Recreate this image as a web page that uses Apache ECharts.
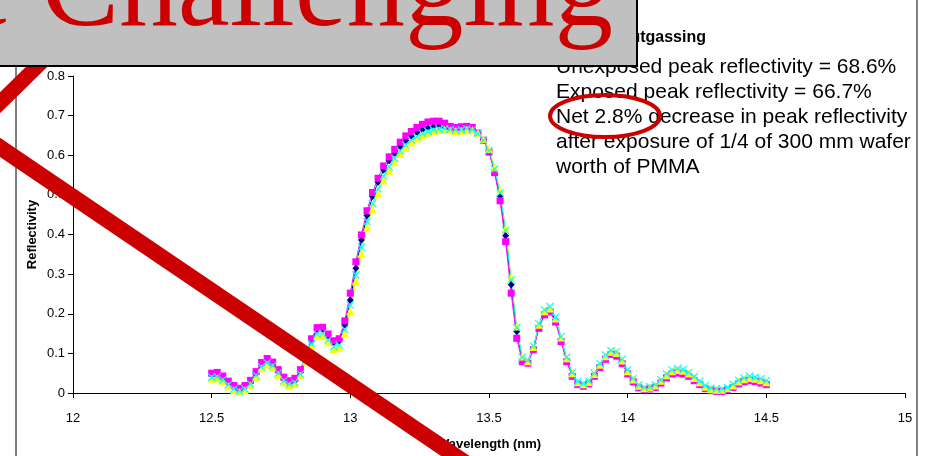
<!DOCTYPE html>
<html><head><meta charset="utf-8">
<script src="https://cdn.jsdelivr.net/npm/echarts@6/dist/echarts.min.js"></script>
<style>html,body{margin:0;padding:0;background:#fff}#c{width:933px;height:456px}</style>
</head><body><div id="c"></div>
<script>
const wavelength = [
 12.50,12.52,12.54,12.56,12.58,12.60,12.62,12.64,12.66,12.68,
 12.70,12.72,12.74,12.76,12.78,12.80,12.82,12.84,12.86,12.88,
 12.90,12.92,12.94,12.96,12.98,13.00,13.02,13.04,13.06,13.08,
 13.10,13.12,13.14,13.16,13.18,13.20,13.22,13.24,13.26,13.28,
 13.30,13.32,13.34,13.36,13.38,13.40,13.42,13.44,13.46,13.48,
 13.50,13.52,13.54,13.56,13.58,13.60,13.62,13.64,13.66,13.68,
 13.70,13.72,13.74,13.76,13.78,13.80,13.82,13.84,13.86,13.88,
 13.90,13.92,13.94,13.96,13.98,14.00,14.02,14.04,14.06,14.08,
 14.10,14.12,14.14,14.16,14.18,14.20,14.22,14.24,14.26,14.28,
 14.30,14.32,14.34,14.36,14.38,14.40,14.42,14.44,14.46,14.48,
 14.50];
const navySeries = [
 0.045,0.047,0.038,0.025,0.014,0.008,0.014,0.027,0.049,0.072,
 0.082,0.073,0.054,0.035,0.026,0.031,0.053,0.091,0.131,0.160,
 0.161,0.144,0.127,0.131,0.172,0.235,0.315,0.386,0.448,0.496,
 0.532,0.563,0.586,0.605,0.622,0.637,0.648,0.657,0.664,0.669,
 0.672,0.673,0.671,0.667,0.665,0.666,0.668,0.666,0.655,0.638,
 0.610,0.562,0.497,0.397,0.273,0.155,0.085,0.077,0.112,0.167,
 0.201,0.209,0.183,0.134,0.083,0.046,0.025,0.020,0.026,0.045,
 0.068,0.089,0.101,0.097,0.078,0.052,0.031,0.016,0.011,0.013,
 0.017,0.028,0.042,0.052,0.054,0.052,0.046,0.035,0.025,0.014,
 0.009,0.007,0.007,0.011,0.017,0.027,0.032,0.035,0.033,0.029,
 0.025];
const pinkSeries = [
 0.050,0.052,0.043,0.030,0.019,0.012,0.019,0.032,0.054,0.077,
 0.087,0.078,0.059,0.040,0.031,0.037,0.059,0.097,0.137,0.165,
 0.166,0.149,0.132,0.137,0.182,0.252,0.331,0.399,0.460,0.506,
 0.542,0.573,0.596,0.615,0.633,0.649,0.660,0.670,0.678,0.684,
 0.686,0.686,0.681,0.673,0.670,0.672,0.673,0.670,0.656,0.638,
 0.608,0.556,0.485,0.382,0.252,0.138,0.079,0.075,0.109,0.163,
 0.197,0.205,0.179,0.130,0.079,0.042,0.021,0.017,0.023,0.042,
 0.064,0.085,0.097,0.093,0.074,0.048,0.028,0.013,0.008,0.010,
 0.014,0.025,0.038,0.048,0.050,0.048,0.042,0.031,0.021,0.011,
 0.006,0.004,0.004,0.008,0.014,0.023,0.028,0.031,0.029,0.025,
 0.021];
const yellowSeries = [
 0.036,0.037,0.029,0.017,0.007,0.003,0.007,0.019,0.040,0.062,
 0.072,0.065,0.046,0.027,0.018,0.023,0.044,0.080,0.118,0.143,
 0.144,0.128,0.111,0.114,0.150,0.207,0.282,0.352,0.417,0.463,
 0.503,0.536,0.561,0.583,0.603,0.619,0.632,0.642,0.651,0.657,
 0.661,0.664,0.665,0.663,0.661,0.662,0.665,0.663,0.656,0.641,
 0.616,0.570,0.512,0.416,0.294,0.168,0.092,0.080,0.116,0.172,
 0.206,0.213,0.188,0.140,0.088,0.050,0.027,0.022,0.028,0.048,
 0.071,0.093,0.104,0.101,0.082,0.055,0.034,0.018,0.012,0.014,
 0.019,0.031,0.045,0.055,0.058,0.056,0.049,0.038,0.027,0.016,
 0.010,0.008,0.008,0.012,0.019,0.029,0.035,0.038,0.036,0.032,
 0.027];
const cyanSeries = [
 0.040,0.041,0.033,0.021,0.010,0.005,0.010,0.023,0.044,0.066,
 0.076,0.069,0.050,0.031,0.022,0.027,0.048,0.085,0.124,0.149,
 0.150,0.134,0.117,0.121,0.160,0.222,0.298,0.368,0.432,0.478,
 0.515,0.547,0.571,0.592,0.611,0.626,0.638,0.647,0.655,0.660,
 0.664,0.666,0.667,0.665,0.663,0.664,0.667,0.664,0.655,0.638,
 0.612,0.565,0.505,0.410,0.285,0.165,0.090,0.082,0.118,0.175,
 0.210,0.218,0.191,0.142,0.090,0.052,0.029,0.024,0.030,0.050,
 0.074,0.096,0.107,0.104,0.085,0.058,0.036,0.020,0.014,0.016,
 0.021,0.033,0.048,0.058,0.062,0.059,0.052,0.041,0.030,0.019,
 0.012,0.010,0.010,0.014,0.022,0.032,0.038,0.042,0.040,0.036,
 0.031];
const xTicks = [12, 12.5, 13, 13.5, 14, 14.5, 15];
const yTicks = [0, 0.1, 0.2, 0.3, 0.4, 0.5, 0.6, 0.7, 0.8];
const noteLines = [
 'Unexposed peak reflectivity = 68.6%',
 'Exposed peak reflectivity = 66.7%',
 'Net 2.8% decrease in peak reflectivity',
 'after exposure of 1/4 of 300 mm wafer',
 'worth of PMMA'
];
const noteTitle = 'Outgassing';
const bannerText = 'e Challenging';

const SANS = "'Liberation Sans', Arial, sans-serif";
const SERIF = "'Liberation Serif', 'Times New Roman', serif";
const XMARK = 'path://M0,1L1,0L5,4L9,0L10,1L6,5L10,9L9,10L5,6L1,10L0,9L4,5Z';

function pairs(ys){ return wavelength.map((x,i)=>[x, ys[i]]); }
function mk(name, ys, color, symbol, size){
  return {name, type:'line', data:pairs(ys), symbol, symbolSize:size, showSymbol:true,
    lineStyle:{color, width:1}, itemStyle:{color}, animation:false, silent:true};
}

const chart = echarts.init(document.getElementById('c'));
const graphic = [
  {type:'rect', z:50, shape:{x:16, y:-5, width:901, height:480}, style:{fill:'none', stroke:'#000', lineWidth:1}},
  {type:'text', z:60, style:{text:noteTitle, x:618, y:37.4, fill:'#000', fontSize:16, fontWeight:'bold', fontFamily:SANS, verticalAlign:'middle'}},
];
noteLines.forEach((t,i)=>graphic.push({type:'text', z:60, style:{text:t, x:556, y:67.6+25*i, fill:'#000', fontSize:21, fontFamily:SANS, verticalAlign:'middle'}}));
graphic.push(
  {type:'ellipse', z:70, shape:{cx:605, cy:116, rx:55, ry:21}, style:{fill:'none', stroke:'#CC0000', lineWidth:4}},
  {type:'line', z:70, shape:{x1:-30, y1:132, x2:110, y2:-5}, style:{stroke:'#CC0000', lineWidth:15}},
  {type:'line', z:70, shape:{x1:-30, y1:127, x2:476, y2:470}, style:{stroke:'#CC0000', lineWidth:16}},
  {type:'rect', z:80, shape:{x:-5, y:-5, width:642, height:71}, style:{fill:'#C0C0C0', stroke:'#000', lineWidth:2}},
  {type:'text', z:90, style:{text:bannerText, x:-40, y:-6, fill:'#CC0000', fontSize:117, fontFamily:SERIF, verticalAlign:'middle'}}
);

chart.setOption({
  animation:false,
  backgroundColor:'#fff',
  grid:{left:73, right:28, top:76, bottom:63, containLabel:false},
  xAxis:{type:'value', min:xTicks[0], max:xTicks[xTicks.length-1], interval:0.5,
    name:'Wavelength (nm)', nameLocation:'middle', nameGap:45, nameMoveOverlap:false,
    nameTextStyle:{color:'#000', fontSize:13, fontWeight:'bold', fontFamily:SANS},
    axisLine:{show:true, onZero:false, lineStyle:{color:'#000', width:1}},
    axisTick:{show:true, inside:false, length:5, lineStyle:{color:'#000'}},
    axisLabel:{color:'#000', fontSize:13, fontFamily:SANS, margin:19, formatter:v=>String(v)},
    splitLine:{show:false}},
  yAxis:{type:'value', min:yTicks[0], max:yTicks[yTicks.length-1], interval:0.1,
    name:'Reflectivity', nameLocation:'middle', nameGap:34, nameRotate:90, nameMoveOverlap:false,
    nameTextStyle:{color:'#000', fontSize:13, fontWeight:'bold', fontFamily:SANS},
    axisLine:{show:true, lineStyle:{color:'#000', width:1}},
    axisTick:{show:true, inside:false, length:5, lineStyle:{color:'#000'}},
    axisLabel:{color:'#000', fontSize:13, fontFamily:SANS, margin:8, formatter:v=>String(Math.round(v*10)/10)},
    splitLine:{show:false}},
  series:[
    mk('Navy', navySeries, '#000080', 'diamond', 7),
    mk('Pink', pinkSeries, '#FF00FF', 'rect', 7),
    mk('Yellow', yellowSeries, '#FFFF00', 'triangle', 8),
    mk('Cyan', cyanSeries, '#00FFFF', XMARK, 8)
  ],
  graphic: graphic
});
</script></body></html>
